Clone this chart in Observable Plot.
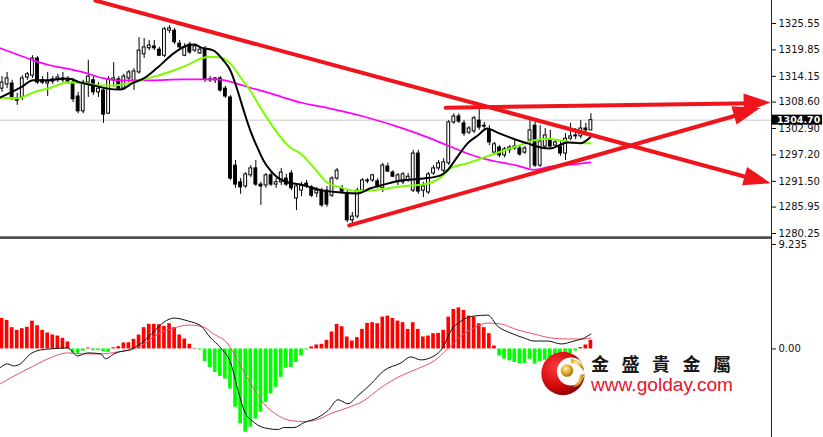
<!DOCTYPE html>
<html><head><meta charset="utf-8">
<script src="https://cdn.jsdelivr.net/npm/d3@7"></script>
<script src="https://cdn.jsdelivr.net/npm/@observablehq/plot@0.6"></script>
<style>
html,body{margin:0;padding:0;background:#fff;}
#wrap{position:relative;width:823px;height:437px;overflow:hidden;background:#fff;}
#wrap svg{display:block;}
#top{position:absolute;left:0;top:0;}
#bot{position:absolute;left:0;top:237px;}
#logo{position:absolute;left:0;top:0;}
</style></head><body>
<div id="wrap"><div id="top"></div><div id="bot"></div>
<svg id="logo" width="823" height="437">
  <defs>
    <radialGradient id="rg" cx="35%" cy="35%" r="75%">
      <stop offset="0" stop-color="#ff3b3b"/><stop offset="0.6" stop-color="#d10a0a"/><stop offset="1" stop-color="#7a0000"/>
    </radialGradient>
    <radialGradient id="gg" cx="40%" cy="35%" r="70%">
      <stop offset="0" stop-color="#fff2a8"/><stop offset="0.5" stop-color="#e0b030"/><stop offset="1" stop-color="#9a6a08"/>
    </radialGradient>
  </defs>
  <circle cx="563" cy="373.5" r="21.7" fill="url(#rg)"/>
  <circle cx="571" cy="371.5" r="14" fill="#fff"/>
  <path d="M571 359 Q583 360 584 371 Q579 364 571 363 Z" fill="url(#gg)"/>
  <path d="M584 374 Q583 386 572 388 Q579 382 580 375 Z" fill="url(#gg)"/>
  <circle cx="567" cy="370.5" r="6.3" fill="url(#gg)"/>
  <text x="591" y="371" font-family="Noto Sans CJK TC" font-size="18" font-weight="bold" letter-spacing="12.5" fill="#1a1a1a">金盛貴金屬</text>
  <text x="591" y="391" font-family="Liberation Sans, Arial" font-size="18" fill="#e5132d" textLength="142" lengthAdjust="spacingAndGlyphs">www.golday.com</text>
</svg>
</div>
<script>
// ---- price candles (index 0..116) ----
const opens  = [1311.5,1312.4,1312.6,1309.4,1309.6,1313.9,1314.3,1318.0,1313.3,1312.6,1313.0,1313.5,1313.7,1313.3,1312.8,1309.8,1306.6,1312.8,1313.3,1310.7,1311.1,1306.1,1313.3,1313.5,1311.5,1313.7,1312.8,1315.0,1318.9,1320.2,1320.6,1319.9,1318.6,1324.0,1324.0,1321.2,1318.6,1321.0,1319.7,1319.1,1319.9,1313.5,1313.3,1313.7,1311.5,1309.6,1294.9,1291.3,1290.4,1292.8,1294.3,1290.8,1290.6,1292.8,1290.8,1291.3,1292.1,1293.2,1287.8,1289.5,1291.0,1290.2,1288.9,1289.5,1289.5,1288.4,1292.1,1290.0,1288.9,1283.1,1283.9,1289.5,1291.5,1291.7,1291.5,1290.0,1294.7,1293.4,1291.3,1291.3,1291.7,1289.5,1297.5,1289.5,1289.1,1293.2,1294.3,1293.8,1295.4,1304.2,1305.5,1304.0,1302.0,1302.3,1304.6,1303.3,1302.5,1297.7,1298.8,1297.1,1298.2,1299.0,1298.6,1297.7,1300.3,1303.5,1294.9,1299.0,1300.5,1299.2,1299.0,1297.5,1300.7,1301.2,1301.2,1302.9,1302.5];
const highs  = [1314.1,1315.0,1313.3,1310.5,1314.3,1315.0,1318.6,1318.4,1314.1,1315.0,1314.1,1314.6,1315.0,1314.1,1313.7,1310.7,1313.3,1317.6,1314.1,1312.8,1311.5,1314.1,1317.1,1314.1,1314.6,1315.4,1315.8,1322.5,1322.3,1321.9,1321.9,1320.4,1324.7,1325.1,1324.5,1321.9,1321.2,1321.5,1321.0,1320.4,1320.6,1314.1,1313.9,1314.1,1312.0,1310.0,1296.0,1292.1,1293.4,1294.9,1296.0,1291.3,1293.2,1293.4,1292.1,1294.3,1293.0,1293.8,1291.0,1291.3,1291.7,1290.6,1290.2,1290.0,1290.4,1292.5,1294.3,1290.6,1289.5,1284.8,1290.0,1292.1,1292.1,1293.0,1292.1,1295.4,1295.4,1293.8,1293.2,1293.4,1293.2,1298.2,1298.2,1291.3,1293.4,1294.9,1296.0,1296.4,1304.6,1306.1,1306.1,1304.6,1303.3,1305.5,1307.2,1304.2,1303.5,1299.9,1299.2,1298.8,1299.2,1300.3,1299.2,1299.0,1304.6,1304.2,1303.5,1302.9,1302.5,1300.3,1300.3,1301.8,1304.0,1302.9,1304.6,1304.0,1306.1];
const lows   = [1310.7,1311.5,1308.9,1307.9,1308.9,1313.3,1313.7,1312.4,1312.4,1309.8,1312.4,1312.8,1312.8,1312.4,1308.5,1306.1,1306.1,1309.6,1310.0,1309.6,1304.0,1305.9,1311.7,1311.1,1311.1,1312.8,1311.1,1314.6,1318.0,1319.7,1319.7,1318.4,1318.2,1323.4,1321.0,1319.9,1318.4,1318.9,1319.3,1318.9,1312.8,1312.8,1312.6,1310.7,1309.4,1291.7,1290.0,1288.7,1290.0,1292.3,1290.4,1286.3,1290.0,1290.4,1290.0,1290.6,1290.4,1289.5,1285.2,1288.2,1290.0,1288.0,1288.0,1285.9,1285.9,1288.0,1291.7,1289.1,1282.6,1282.0,1283.5,1289.1,1291.0,1291.3,1290.0,1289.1,1293.4,1292.3,1290.6,1290.8,1291.3,1289.1,1288.7,1288.0,1288.7,1292.8,1293.8,1293.4,1294.9,1303.8,1304.0,1301.2,1301.6,1301.8,1302.5,1302.7,1299.2,1297.1,1296.6,1296.6,1297.5,1298.2,1296.9,1297.3,1294.3,1294.5,1294.5,1298.6,1298.6,1298.6,1296.9,1296.0,1300.3,1300.5,1300.7,1301.4,1302.5];
const closes = [1312.8,1313.7,1309.6,1308.9,1313.7,1314.6,1318.0,1312.8,1312.8,1313.0,1313.5,1313.9,1313.3,1313.0,1309.2,1306.6,1312.8,1314.1,1310.7,1311.5,1305.9,1313.5,1313.7,1311.5,1314.1,1315.0,1315.2,1319.7,1320.4,1320.8,1320.2,1318.6,1324.3,1324.5,1321.5,1320.4,1320.4,1319.3,1320.6,1319.9,1313.5,1313.3,1313.7,1311.1,1309.8,1292.1,1290.8,1290.2,1293.0,1294.3,1290.8,1290.4,1292.8,1290.8,1291.3,1293.4,1290.8,1290.0,1290.4,1290.6,1290.4,1288.4,1289.5,1286.3,1286.5,1292.1,1293.8,1289.3,1283.1,1283.9,1289.5,1291.7,1291.7,1292.8,1290.4,1294.9,1293.6,1292.5,1292.8,1293.0,1292.5,1297.5,1289.3,1290.4,1293.0,1294.3,1295.4,1295.6,1304.2,1305.5,1304.4,1301.8,1302.9,1305.1,1303.1,1303.5,1299.9,1299.5,1297.1,1298.4,1298.8,1298.6,1297.3,1298.6,1302.5,1294.9,1300.1,1301.4,1299.0,1299.9,1297.5,1300.7,1301.2,1301.4,1302.9,1302.5,1304.7];
const lastPrice = 1304.70;
const priceTicks = [1325.55,1319.85,1314.15,1308.60,1302.90,1297.20,1291.50,1285.95,1280.25];

// ---- moving averages [bar index, price] ----
const maBlack = [[-0.3,1309.6],[3.6,1311.7],[6.2,1313.3],[9.0,1313.3],[12.9,1313.7],[15.5,1312.8],[18.0,1312.2],[20.8,1311.5],[23.3,1311.3],[25.9,1312.8],[27.9,1313.7],[30.6,1316.0],[33.8,1319.1],[36.5,1320.8],[38.0,1321.0],[39.1,1320.4],[41.7,1319.7],[43.6,1317.6],[45.0,1315.4],[46.4,1311.1],[47.6,1306.8],[48.9,1302.5],[50.3,1298.8],[51.5,1296.0],[52.9,1293.8],[54.3,1292.3],[56.2,1291.3],[58.8,1290.8],[63.3,1289.5],[66.7,1289.1],[70.0,1288.9],[72.6,1290.0],[74.6,1290.6],[78.5,1291.7],[83.0,1292.1],[86.4,1292.8],[87.5,1293.6],[89.7,1296.8],[91.7,1299.7],[93.7,1301.4],[95.6,1302.9],[97.6,1302.0],[100.7,1300.7],[103.5,1299.7],[106.1,1298.8],[108.0,1298.6],[111.4,1299.9],[113.9,1299.7],[115.9,1301.0]];
const maGreen = [[-0.3,1309.6],[3.1,1309.4],[6.2,1310.7],[9.6,1311.7],[12.9,1312.8],[16.8,1312.6],[19.4,1312.2],[22.0,1312.2],[24.7,1312.6],[27.3,1313.3],[30.6,1314.3],[33.8,1315.4],[37.1,1316.9],[39.1,1318.0],[41.1,1318.4],[43.0,1318.2],[45.0,1316.9],[47.0,1313.9],[48.9,1311.1],[50.9,1307.4],[52.9,1304.0],[54.9,1301.0],[56.8,1298.8],[58.8,1297.5],[61.4,1294.5],[64.1,1291.2],[66.7,1290.2],[69.3,1289.5],[72.0,1289.5],[75.1,1289.9],[78.5,1290.4],[83.8,1291.0],[86.4,1292.3],[88.3,1294.3],[91.7,1295.4],[94.8,1296.6],[98.2,1297.9],[100.7,1298.8],[104.7,1300.3],[107.4,1300.7],[110.0,1300.3],[113.0,1299.9],[115.9,1299.7]];
const maMagenta = [[-0.3,1320.2],[3.6,1318.6],[6.2,1317.6],[9.6,1316.5],[12.9,1315.8],[16.1,1315.0],[19.4,1313.9],[22.7,1313.3],[29.2,1313.3],[35.7,1313.5],[42.4,1313.5],[45.6,1312.8],[48.9,1311.7],[52.3,1310.7],[55.4,1309.6],[58.8,1308.5],[64.7,1307.2],[71.2,1305.5],[78.5,1303.1],[85.0,1300.5],[88.3,1299.0],[91.7,1297.5],[94.8,1296.4],[98.2,1295.6],[101.5,1294.9],[104.7,1294.0],[108.0,1294.7],[112.0,1295.1],[115.9,1295.6]];

// ---- trend lines [start index, start price, end index, end price] ----
const trendLines = [
  {x1: 18.4, y1: 1330.5, x2: 151.5, y2: 1291.0},
  {x1: 87.4, y1: 1307.4, x2: 151.5, y2: 1308.4},
  {x1: 68.4, y1: 1282.0, x2: 149.4, y2: 1307.2}
];

// ---- MACD ----
const macdHist = [2.70,2.52,1.88,1.64,1.79,1.91,2.46,2.05,1.64,1.41,1.23,1.14,0.94,0.62,-0.35,-0.38,-0.20,0.08,-0.15,-0.15,-0.25,-0.30,0.10,0.20,0.53,0.55,0.85,1.23,1.88,2.17,2.17,2.14,1.99,2.23,1.88,1.23,0.88,0.41,0.05,-0.10,-1.11,-1.64,-2.08,-2.43,-2.67,-3.55,-5.16,-6.63,-7.36,-6.92,-6.19,-5.60,-4.72,-3.99,-3.40,-2.52,-1.70,-1.64,-1.20,-0.62,-0.09,0.18,0.35,0.41,0.76,1.50,2.17,1.96,1.06,0.70,1.00,1.73,2.26,2.32,2.23,2.81,2.90,2.70,2.46,2.32,1.73,2.32,1.73,1.06,1.14,1.35,1.38,1.64,2.81,3.49,3.63,3.40,2.90,2.81,2.23,1.88,1.35,0.26,-0.62,-0.91,-1.06,-1.20,-1.29,-1.29,-0.91,-1.35,-1.11,-1.00,-0.82,-0.62,-0.53,-0.47,-0.41,-0.18,0.12,0.35,0.76];
const macdMain = [[-0.3,-1.64],[1.1,-1.32],[2.3,-1.50],[3.6,-1.32],[5.6,-0.44],[7.6,-0.09],[9.5,0],[12.9,0.09],[14.9,-0.62],[16.8,-0.35],[19.5,-0.44],[20.4,-0.88],[22.0,-0.44],[26.0,0.09],[28.0,0.70],[30.0,1.58],[31.9,2.37],[33.9,2.73],[36.7,2.46],[39.2,2.02],[41.1,0.97],[43.1,0.09],[45.1,-1.32],[46.5,-3.69],[47.7,-5.45],[49.7,-6.51],[52.4,-7.04],[54.4,-7.12],[55.5,-6.95],[57.5,-6.95],[59.5,-6.51],[62.2,-6.07],[64.2,-5.45],[66.2,-4.49],[68.1,-4.84],[70.1,-4.13],[72.7,-3.08],[75.2,-1.93],[78.6,-1.23],[80.5,-0.70],[82.5,-0.97],[85.1,-0.62],[86.8,0.09],[88.4,1.58],[90.4,2.46],[92.9,2.90],[95.7,2.99],[97.6,2.02],[100.2,1.41],[102.8,0.97],[104.8,0.70],[107.5,0.70],[110.1,0.44],[112.7,0.70],[114.7,0.97],[116,1.32]];
const macdSignal = [[-0.3,-3.08],[1.7,-2.55],[3.6,-2.11],[6.2,-1.50],[9.5,-0.79],[12.9,-0.35],[16.1,-0.44],[19.5,-0.44],[22.8,-0.26],[26.0,0],[28.0,0.44],[30.7,1.32],[33.9,1.85],[36.7,2.11],[39.2,2.02],[41.7,1.32],[44.5,0.44],[46.5,-1.06],[49.0,-3.08],[51.6,-4.84],[54.4,-5.89],[56.9,-6.33],[59.5,-6.42],[62.2,-6.24],[64.7,-5.72],[68.1,-5.19],[71.3,-4.57],[74.6,-3.43],[78.6,-2.37],[81.8,-1.76],[85.1,-1.06],[87.8,0],[90.4,1.14],[92.9,1.85],[95.7,2.29],[98.3,2.20],[101.6,1.67],[104.8,1.32],[108.1,0.97],[111.4,0.88],[114.6,0.88],[116,0.97]];
const macdTicks = [9.235, 0];

// ---- layout ----
const xDomain = [-0.295, 151.57];
const font = "DejaVu Sans, Verdana, sans-serif";
const candles = opens.map((o, i) => ({i, open: o, high: highs[i], low: lows[i], close: closes[i]}));
const red = "#f0141c";

const topPlot = Plot.plot({
  width: 823, height: 237, marginLeft: 0, marginRight: 52, marginTop: 0, marginBottom: 0,
  style: {fontFamily: font, fontSize: "10px", background: "white", color: "#111", overflow: "visible"},
  x: {domain: xDomain, axis: null},
  y: {domain: [1279.39, 1330.51], axis: "right", ticks: priceTicks, tickFormat: d => d.toFixed(2), tickSize: 4, tickPadding: 3, label: null},
  marks: [
    Plot.ruleY([lastPrice], {stroke: "#c8c8c8"}),
    Plot.ruleX(candles, {x: "i", y1: "low", y2: "high", stroke: "#000", strokeWidth: 1}),
    Plot.rect(candles, {x1: d => d.i - 0.28, x2: d => d.i + 0.28, y1: "open", y2: "close",
      fill: d => d.close >= d.open ? "#fff" : "#000", stroke: "#000", strokeWidth: 1}),
    Plot.line(maMagenta, {x: d => d[0], y: d => d[1], stroke: "#ff00ff", strokeWidth: 1.7, curve: "monotone-x"}),
    Plot.line(maGreen, {x: d => d[0], y: d => d[1], stroke: "#7cfc00", strokeWidth: 2, curve: "monotone-x"}),
    Plot.line(maBlack, {x: d => d[0], y: d => d[1], stroke: "#000", strokeWidth: 2, curve: "monotone-x"}),
    Plot.arrow(trendLines, {x1: "x1", y1: "y1", x2: "x2", y2: "y2", stroke: red, strokeWidth: 4, headLength: 0, insetEnd: 18}),
    Plot.ruleX([xDomain[1]], {stroke: "#222"}),
    Plot.ruleY([1279.5], {stroke: "#505050", strokeWidth: 1.5})
  ]
});
document.getElementById("top").append(topPlot);

function sc(plot, name) {
  const s = plot.scale(name);
  return s.apply ? (v => s.apply(v)) : d3.scaleLinear(s.domain, s.range);
}
const fx = sc(topPlot, "x"), fy = sc(topPlot, "y");
const gTop = d3.select(topPlot).append("g");
for (const t of trendLines) {
  const x1 = fx(t.x1), y1 = fy(t.y1), x2 = fx(t.x2), y2 = fy(t.y2);
  const a = Math.atan2(y2 - y1, x2 - x1), L = 27, W = 9.5;
  const bx = x2 - L * Math.cos(a), by = y2 - L * Math.sin(a);
  const px = -Math.sin(a) * W, py = Math.cos(a) * W;
  gTop.append("path").attr("d", `M${x2},${y2}L${bx + px},${by + py}L${bx - px},${by - py}Z`).attr("fill", red);
}
const ly = fy(lastPrice), lx = fx(xDomain[1]);
gTop.append("rect").attr("x", lx + 1).attr("y", ly - 5).attr("width", 50).attr("height", 10).attr("fill", "#000");
gTop.append("text").attr("x", lx + 6).attr("y", ly).attr("dy", "0.34em").attr("fill", "#fff")
  .attr("text-anchor", "start").attr("font-family", font).attr("font-size", "9.5px").attr("font-weight", "bold")
  .text(lastPrice.toFixed(2));

const hist = macdHist.map((v, i) => ({i, v}));
const botPlot = Plot.plot({
  width: 823, height: 200, marginLeft: 0, marginRight: 52, marginTop: 0, marginBottom: 0,
  style: {fontFamily: font, fontSize: "10px", background: "transparent", color: "#111", overflow: "visible"},
  x: {domain: xDomain, axis: null},
  y: {domain: [-7.828, 9.85], axis: "right", ticks: macdTicks, tickFormat: d => d === 0 ? "0.00" : d.toFixed(3), tickSize: 4, tickPadding: 3, label: null},
  marks: [
    Plot.rect(hist, {x1: d => d.i - 0.36, x2: d => d.i + 0.36, y1: 0, y2: "v", fill: d => d.v >= 0 ? "#ff0000" : "#00ff00"}),
    Plot.line(macdSignal, {x: d => d[0], y: d => d[1], stroke: "#e8506e", strokeWidth: 1, curve: "monotone-x"}),
    Plot.line(macdMain, {x: d => d[0], y: d => d[1], stroke: "#111", strokeWidth: 1, curve: "monotone-x"}),
    Plot.ruleX([xDomain[1]], {stroke: "#222"}),
    Plot.ruleY([9.81], {stroke: "#505050", strokeWidth: 2})
  ]
});
document.getElementById("bot").append(botPlot);
</script>
</body></html>
